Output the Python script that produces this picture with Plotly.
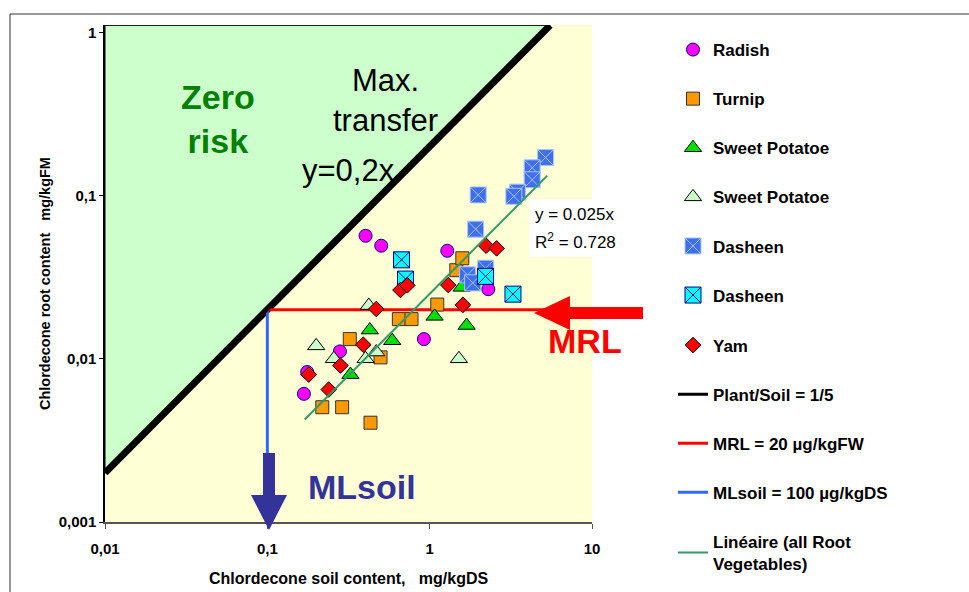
import plotly.graph_objects as go

# ---- measured contents (mg/kg) ----
radish_x = [0.168, 0.176, 0.280, 0.403, 0.503, 0.921, 1.284, 2.298]
radish_y = [0.0061, 0.0083, 0.0111, 0.0567, 0.0493, 0.0132, 0.0459, 0.0267]

turnip_x = [0.218, 0.289, 0.432, 0.322, 0.498, 0.646, 0.773, 1.114, 1.459, 1.589, 1.873]
turnip_y = [0.00505, 0.00505, 0.00406, 0.0132, 0.0102, 0.0175, 0.0175, 0.0215, 0.0349, 0.0413, 0.0287]

sweet_potato_x = [0.325, 0.428, 0.588, 1.072, 1.573, 1.689]
sweet_potato_y = [0.0080, 0.0150, 0.0129, 0.0182, 0.0274, 0.0160]

sweet_potato2_x = [0.200, 0.257, 0.403, 0.469, 0.422, 1.514]
sweet_potato2_y = [0.0120, 0.0100, 0.0100, 0.0110, 0.0212, 0.0100]

dasheen_x = [5.18, 4.28, 4.28, 3.47, 3.30, 1.99, 1.92, 1.71, 1.84, 2.21]
dasheen_y = [0.171, 0.148, 0.125, 0.105, 0.099, 0.101, 0.0623, 0.0327, 0.0292, 0.0359]

dasheen2_x = [0.671, 0.710, 2.21, 3.26]
dasheen2_y = [0.0404, 0.0308, 0.0320, 0.0249]

yam_x = [0.180, 0.239, 0.282, 0.390, 0.469, 0.661, 0.728, 1.302, 1.602, 2.227, 2.585]
yam_y = [0.0080, 0.00648, 0.00909, 0.0122, 0.0202, 0.0264, 0.0282, 0.0283, 0.0214, 0.0493, 0.0475]

# reference lines
plant_soil_x = [0.01, 5.52]          # Plant/Soil = 1/5  (y = 0,2x)
plant_soil_y = [0.002, 1.104]
mrl_x = [0.1, 10]                    # MRL = 20 µg/kg FW
mrl_y = [0.02, 0.02]
mlsoil_x = [0.1, 0.1]                # MLsoil = 100 µg/kg DS
mlsoil_y = [0.02, 0.001]
trend_slope = 0.025
trend_r2 = 0.728
trend_x = [0.17, 5.3]
trend_y = [trend_slope * v for v in trend_x]

x_ticks = [0.01, 0.1, 1, 10]
x_ticktext = ["0,01", "0,1", "1", "10"]
y_ticks = [0.001, 0.01, 0.1, 1]
y_ticktext = ["0,001", "0,01", "0,1", "1"]

FONT = "Liberation Sans, Arial, sans-serif"

# plot-area geometry in pixels, used to place decorations
W_FIG, H_FIG = 969, 592
L, R, T, B = 105, 592, 25, 522


def px(xp):
    return (xp - L) / (R - L)


def py(yp):
    return (B - yp) / (B - T)


fig = go.Figure()

# "zero risk" zone above the 1/5 transfer line
fig.add_trace(go.Scatter(
    x=[plant_soil_x[0], plant_soil_x[0], plant_soil_x[1]],
    y=[plant_soil_y[0], plant_soil_y[1], plant_soil_y[1]],
    fill="toself", fillcolor="#CCFFCC", mode="lines",
    line=dict(color="black", width=1), showlegend=False, hoverinfo="skip"))

fig.add_trace(go.Scatter(
    x=plant_soil_x, y=plant_soil_y, mode="lines",
    line=dict(color="black", width=7), showlegend=False, hoverinfo="skip"))

# the legend is split into two stacked blocks so it never needs to scroll
fig.add_trace(go.Scatter(
    x=mrl_x, y=mrl_y, mode="lines", name="MRL = 20 µg/kgFW",
    line=dict(color="#FF0000", width=3), legendgroup="g9", legendrank=9, legend="legend2"))

fig.add_trace(go.Scatter(
    x=mlsoil_x, y=mlsoil_y, mode="lines", name="MLsoil = 100 µg/kgDS",
    line=dict(color="#3366FF", width=3), legendgroup="g10", legendrank=10, legend="legend2"))

fig.add_trace(go.Scatter(
    x=plant_soil_x, y=plant_soil_y, mode="lines", name="Plant/Soil = 1/5",
    line=dict(color="black", width=3), legendgroup="g8", legendrank=8, legend="legend2"))

marker_series = [
    ("Radish", radish_x, radish_y, "circle", 13, "#FF00FF", "#000080", 1, "legend"),
    ("Turnip", turnip_x, turnip_y, "square", 13, "#FF9900", "#333333", 2, "legend"),
    ("Sweet Potatoe", sweet_potato_x, sweet_potato_y, "triangle-up", 15, "#00E000", "#000000", 3, "legend"),
    ("Sweet Potatoe ", sweet_potato2_x, sweet_potato2_y, "triangle-up", 15, "#CCFFCC", "#000000", 4, "legend"),
    ("Dasheen", dasheen_x, dasheen_y, "square-x", 16, "#3F6FEA", "#A9C6FF", 5, "legend"),
    ("Dasheen ", dasheen2_x, dasheen2_y, "square-x", 16, "#00FFFF", "#000080", 6, "legend"),
    ("Yam", yam_x, yam_y, "diamond", 12, "#FF0000", "#000000", 7, "legend2"),
]
for name, xs, ys, sym, size, fill, edge, rank, leg in marker_series:
    fig.add_trace(go.Scatter(
        x=xs, y=ys, mode="markers", name=name,
        marker=dict(symbol=sym, size=size, color=fill, line=dict(color=edge, width=1)),
        legendgroup=f"g{rank}", legendrank=rank, legend=leg))

fig.add_trace(go.Scatter(
    x=trend_x, y=trend_y, mode="lines", name="Linéaire (all Root<br>Vegetables)",
    line=dict(color="#339966", width=2), legendgroup="g11", legendrank=11, legend="legend2"))

shapes = []
# outer chart frame
shapes.append(dict(type="rect", xref="paper", yref="paper",
                   x0=px(10), y0=py(600), x1=px(990), y1=py(14),
                   line=dict(color="#333333", width=1), layer="below"))
# regression label box
shapes.append(dict(type="rect", xref="paper", yref="paper",
                   x0=px(529), y0=py(257), x1=px(617), y1=py(199),
                   fillcolor="white", line=dict(width=0), layer="above"))


def poly(points):
    return "M " + " L ".join(f"{px(a):.5f},{py(b):.5f}" for a, b in points) + " Z"


# MRL arrow pointing left
shapes.append(dict(type="path", xref="paper", yref="paper", layer="above",
                   path=poly([(534, 313), (570, 296), (570, 307), (643, 307),
                              (643, 319), (570, 319), (570, 330)]),
                   fillcolor="#FF0000", line=dict(width=0)))
# MLsoil arrow pointing down
shapes.append(dict(type="path", xref="paper", yref="paper", layer="above",
                   path=poly([(263, 453), (275, 453), (275, 495), (287, 495),
                              (269, 530), (251, 495), (263, 495)]),
                   fillcolor="#333399", line=dict(width=0)))

annotations = [
    dict(x=px(218), y=py(119), text="<b>Zero<br>risk</b>", font=dict(size=34, color="#008000")),
    dict(x=px(331), y=py(100), text="Max.<br>transfer", xanchor="left",
         font=dict(size=31, color="black")),
    dict(x=px(300), y=py(170), text="y=0,2x", xanchor="left", font=dict(size=31, color="black")),
    dict(x=px(585), y=py(341), text="<b>MRL</b>", font=dict(size=34, color="#FF0000")),
    dict(x=px(362), y=py(487), text="<b>MLsoil</b>", font=dict(size=34, color="#333399")),
    dict(x=px(533), y=py(215), text=f"y = {trend_slope}x", xanchor="left",
         font=dict(size=17, color="black")),
    dict(x=px(533), y=py(241), text=f"R<sup>2</sup> = {trend_r2}", xanchor="left",
         font=dict(size=17, color="black")),
    dict(x=px(348), y=py(578), text="<b>Chlordecone soil content,   mg/kgDS</b>",
         font=dict(size=16, color="black")),
    dict(x=px(45), y=py(284), text="<b>Chlordecone root content   mg/kgFM</b>", textangle=-90,
         font=dict(size=14.5, color="black")),
]
for a in annotations:
    a.update(xref="paper", yref="paper", showarrow=False)
    a.setdefault("xanchor", "center")
    a.setdefault("yanchor", "middle")
    a["font"].setdefault("family", FONT)

# legends are placed in figure (container) coordinates so they do not push the margins
legend_style = dict(xref="container", yref="container", xanchor="left", yanchor="top",
                    font=dict(size=17, family=FONT, color="black", weight="bold"),
                    traceorder="grouped", tracegroupgap=24, bgcolor="rgba(0,0,0,0)",
                    itemsizing="trace")

fig.update_layout(
    width=W_FIG, height=H_FIG,
    margin=dict(l=L, r=W_FIG - R, t=T, b=H_FIG - B, autoexpand=False),
    paper_bgcolor="white", plot_bgcolor="#FFFFD6",
    font=dict(family=FONT, color="black"),
    shapes=shapes, annotations=annotations,
    legend=dict(x=673 / W_FIG, y=1 - 32 / H_FIG, **legend_style),
    legend2=dict(x=673 / W_FIG, y=1 - 327.5 / H_FIG, **legend_style),
    xaxis=dict(type="log", range=[-2, 1], tickvals=x_ticks, ticktext=x_ticktext,
               showgrid=False, zeroline=False, showline=True, linecolor="#555555", linewidth=1.5,
               ticks="outside", ticklen=5, tickcolor="#555555",
               tickfont=dict(size=15, family=FONT, weight="bold"), ticklabelstandoff=7),
    yaxis=dict(type="log", range=[-3, -3 + (B - T) / 163.2], tickvals=y_ticks, ticktext=y_ticktext,
               showgrid=False, zeroline=False, showline=True, linecolor="black", linewidth=1.5,
               ticks="outside", ticklen=4, tickcolor="black",
               tickfont=dict(size=15, family=FONT, weight="bold")),
    showlegend=True,
)

fig.write_html("out.html")
